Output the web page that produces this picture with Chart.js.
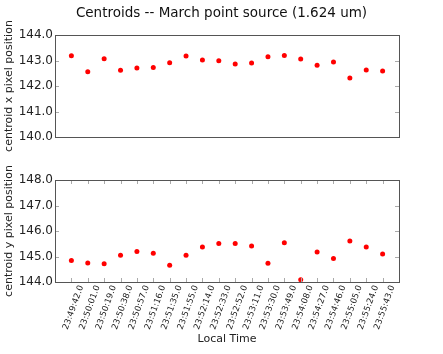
<!DOCTYPE html>
<html>
<head>
<meta charset="utf-8">
<script src="https://cdn.jsdelivr.net/npm/chart.js@4"></script>
<style>
  html, body { margin: 0; padding: 0; background: #fff; }
  #wrap { position: relative; width: 443px; height: 354px; }
  canvas { position: absolute; left: 0; }
</style>
</head>
<body>
<div id="wrap">
  <canvas id="haut" width="443" height="170" style="top:0"></canvas>
  <canvas id="bas" width="443" height="204" style="top:150px"></canvas>
</div>
<script>
// heures locales des poses
const heures = ['23:49:42.0', '23:50:01.0', '23:50:19.0', '23:50:38.0', '23:50:57.0',
  '23:51:16.0', '23:51:35.0', '23:51:55.0', '23:52:14.0', '23:52:33.0',
  '23:52:52.0', '23:53:11.0', '23:53:30.0', '23:53:49.0', '23:54:08.0',
  '23:54:27.0', '23:54:46.0', '23:55:05.0', '23:55:24.0', '23:55:43.0'];

const centroideX = [143.19, 142.56, 143.07, 142.62, 142.71, 142.73, 142.91, 143.18, 143.02, 142.99,
  142.86, 142.90, 143.15, 143.20, 143.06, 142.81, 142.94, 142.31, 142.63, 142.59];

const centroideY = [144.84, 144.75, 144.72, 145.05, 145.20, 145.13, 144.66, 145.05, 145.37, 145.51,
  145.51, 145.41, 144.74, 145.54, 144.09, 145.18, 144.92, 145.61, 145.37, 145.10];

const graduationsX = [140.0, 140.5, 141.0, 141.5, 142.0, 142.5, 143.0, 143.5, 144.0];
const graduationsY = [144.0, 144.5, 145.0, 145.5, 146.0, 146.5, 147.0, 147.5, 148.0];

const police = "'DejaVu Sans', sans-serif";
Chart.defaults.font.family = police;
Chart.defaults.color = '#222';

// cadre + petites graduations vers l'intérieur, facon matplotlib
const cadre = {
  id: 'cadre',
  afterDraw(chart, args, opts) {
    const {ctx, chartArea: a, scales} = chart;
    ctx.save();
    ctx.strokeStyle = '#aaa';
    ctx.lineWidth = 1;
    scales.y.ticks.forEach(t => {
      const y = Math.round(scales.y.getPixelForValue(t.value)) + 0.5;
      ctx.beginPath();
      ctx.moveTo(a.left, y); ctx.lineTo(a.left + 4, y);
      ctx.moveTo(a.right, y); ctx.lineTo(a.right - 4, y);
      ctx.stroke();
    });
    if (opts.ticksX) {
      heures.forEach((h, i) => {
        const x = Math.round(scales.x.getPixelForValue(i)) + 0.5;
        ctx.beginPath();
        ctx.moveTo(x, a.top); ctx.lineTo(x, a.top + 4);
        ctx.moveTo(x, a.bottom); ctx.lineTo(x, a.bottom - 4);
        ctx.stroke();
      });
    }
    ctx.strokeStyle = '#555';
    ctx.strokeRect(Math.round(a.left) + 0.5, Math.round(a.top) + 0.5,
      Math.round(a.right - a.left), Math.round(a.bottom - a.top));
    ctx.restore();
  }
};

function axeY(min, max, graduations, titre) {
  return {
    min: min, max: max,
    afterBuildTicks: s => { s.ticks = graduations.map(v => ({value: v})); },
    afterFit: s => { s.width = 55; },
    grid: { display: false, drawTicks: false },
    border: { display: false },
    ticks: { padding: 2, font: { size: 12 }, color: '#222', callback: v => v.toFixed(1) },
    title: { display: true, text: titre, font: { size: 11 }, color: '#222', padding: { top: 2.5, bottom: 0 } }
  };
}

// marge de droite : axe vide pour garder le titre centré sur la figure
const marge = {
  position: 'right', min: 0, max: 1,
  afterFit: s => { s.width = 44; },
  grid: { display: false, drawTicks: false },
  border: { display: false },
  ticks: { display: false }
};

function jeu(valeurs) {
  return [{
    data: valeurs.map((v, i) => ({x: i, y: v})),
    showLine: false,
    pointRadius: 2.5,
    pointBackgroundColor: '#ff0000',
    pointBorderWidth: 0
  }];
}

new Chart(document.getElementById('haut'), {
  type: 'line',
  data: { datasets: jeu(centroideX) },
  options: {
    responsive: false,
    animation: false,
    layout: { padding: { left: 0, right: 0, top: 0, bottom: 33 } },
    plugins: {
      legend: { display: false },
      tooltip: { enabled: false },
      title: {
        display: true,
        text: 'Centroids -- March point source (1.624 um)',
        font: { size: 13.5, weight: 'normal' },
        color: '#111',
        padding: { top: 5.5, bottom: 13.3 }
      },
      cadre: { ticksX: false }
    },
    scales: {
      x: { type: 'linear', min: -1, max: 20, display: false },
      y: axeY(140, 144, graduationsX, 'centroid x pixel position'),
      marge: marge
    }
  },
  plugins: [cadre]
});

new Chart(document.getElementById('bas'), {
  type: 'line',
  data: { datasets: jeu(centroideY) },
  options: {
    responsive: false,
    animation: false,
    layout: { padding: { left: 0, right: 0, top: 30, bottom: 0 } },
    plugins: {
      legend: { display: false },
      tooltip: { enabled: false },
      cadre: { ticksX: true }
    },
    scales: {
      x: {
        type: 'linear', min: -1, max: 20,
        afterBuildTicks: s => { s.ticks = heures.map((h, i) => ({value: i})); },
        afterFit: s => { s.height = 72; },
        grid: { display: false, drawTicks: false },
        border: { display: false },
        ticks: {
          autoSkip: false, maxRotation: 70, minRotation: 70,
          padding: 2, labelOffset: 10,
          font: { size: 8.5 }, color: '#222',
          callback: v => heures[v]
        },
        title: { display: true, text: 'Local Time', font: { size: 11 }, color: '#222', padding: { top: 0, bottom: 8.4 } }
      },
      y: axeY(144, 148, graduationsY, 'centroid y pixel position'),
      marge: marge
    }
  },
  plugins: [cadre]
});
</script>
</body>
</html>
